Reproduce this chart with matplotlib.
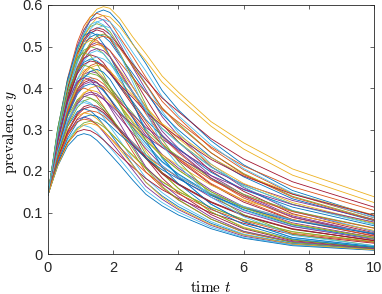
import matplotlib
matplotlib.use('Agg')
import matplotlib.pyplot as plt

# sample times shared by all runs
t = [0, 0.3, 0.6, 0.9, 1.1, 1.3, 1.5, 1.7, 1.9, 2.2, 2.6, 3.0, 3.5, 4.0, 5.0, 6.0, 7.5, 10]

# prevalence of each run
y_runs = [
    [.143, .286, .402, .489, .532, .564, .582, .588, .582, .556, .506, .459, .394, .347, .273, .215, .153, .091],
    [.143, .300, .423, .510, .549, .572, .580, .574, .560, .522, .476, .426, .368, .328, .255, .203, .145, .087],
    [.143, .289, .406, .495, .539, .571, .590, .596, .592, .568, .523, .483, .429, .390, .319, .268, .205, .138],
    [.143, .297, .416, .502, .540, .562, .570, .564, .547, .507, .450, .396, .331, .285, .211, .160, .103, .054],
    [.143, .291, .407, .489, .526, .548, .555, .549, .536, .500, .455, .408, .352, .314, .244, .194, .139, .083],
    [.143, .274, .380, .460, .499, .528, .544, .550, .545, .517, .462, .410, .344, .292, .217, .162, .105, .055],
    [.143, .286, .397, .477, .512, .533, .540, .535, .518, .481, .427, .375, .313, .270, .200, .151, .097, .051],
    [.143, .282, .391, .468, .503, .523, .530, .525, .511, .477, .435, .390, .337, .299, .233, .186, .133, .080],
    [.143, .297, .411, .484, .511, .520, .515, .499, .476, .437, .387, .338, .283, .244, .182, .135, .088, .047],
    [.143, .282, .394, .479, .521, .551, .569, .575, .571, .548, .505, .466, .414, .377, .308, .253, .190, .124],
    [.143, .275, .378, .451, .484, .503, .510, .505, .490, .454, .403, .354, .296, .255, .189, .143, .092, .048],
    [.143, .289, .397, .466, .491, .500, .495, .483, .463, .430, .390, .345, .303, .270, .210, .165, .120, .073],
    [.143, .268, .365, .435, .465, .484, .490, .483, .463, .421, .363, .301, .230, .186, .120, .078, .039, .017],
    [.143, .281, .382, .448, .472, .480, .475, .461, .439, .403, .358, .312, .262, .226, .168, .125, .082, .043],
    [.143, .276, .375, .439, .462, .470, .465, .454, .435, .404, .367, .324, .284, .254, .197, .155, .113, .068],
    [.143, .257, .346, .409, .438, .454, .460, .455, .442, .409, .363, .320, .267, .230, .170, .129, .083, .044],
    [.143, .268, .361, .421, .443, .450, .443, .425, .401, .360, .306, .248, .196, .158, .101, .065, .034, .015],
    [.143, .264, .354, .412, .433, .440, .436, .422, .403, .370, .328, .286, .240, .207, .154, .114, .075, .040],
    [.143, .262, .350, .407, .428, .435, .431, .420, .402, .374, .339, .300, .263, .235, .183, .144, .104, .063],
    [.143, .278, .371, .421, .430, .426, .413, .393, .372, .340, .299, .260, .221, .191, .142, .105, .067, .037],
    [.143, .256, .340, .394, .413, .420, .414, .397, .374, .336, .286, .231, .183, .147, .095, .061, .032, .014],
    [.143, .252, .333, .385, .404, .410, .406, .394, .375, .344, .305, .267, .223, .193, .144, .107, .070, .037],
    [.143, .264, .347, .392, .400, .394, .378, .356, .332, .296, .246, .198, .160, .130, .084, .052, .028, .012],
    [.143, .246, .322, .371, .389, .395, .391, .381, .365, .340, .308, .273, .239, .213, .166, .130, .095, .057],
    [.143, .244, .318, .367, .384, .390, .386, .374, .357, .328, .291, .254, .213, .183, .137, .101, .066, .035],
    [.143, .255, .331, .372, .380, .376, .365, .348, .329, .300, .264, .230, .196, .169, .125, .093, .059, .033],
    [.143, .250, .323, .363, .370, .364, .350, .329, .307, .274, .228, .183, .148, .120, .078, .048, .026, .011],
    [.143, .232, .297, .339, .355, .360, .356, .346, .329, .302, .268, .234, .196, .169, .126, .094, .061, .032],
    [.143, .241, .307, .343, .350, .345, .331, .312, .291, .259, .215, .173, .140, .114, .074, .046, .025, .011],
    [.143, .225, .286, .326, .340, .345, .342, .333, .319, .297, .269, .238, .209, .186, .145, .114, .083, .050],
    [.143, .236, .299, .333, .340, .337, .326, .311, .294, .269, .236, .206, .175, .151, .112, .083, .053, .030],
    [.143, .231, .291, .324, .330, .325, .312, .294, .274, .244, .203, .163, .132, .107, .069, .043, .023, .010],
    [.143, .215, .269, .303, .316, .320, .317, .307, .293, .269, .238, .208, .174, .150, .112, .083, .054, .029],
    [.143, .222, .275, .305, .310, .305, .293, .276, .257, .229, .191, .153, .124, .101, .065, .040, .022, .010],
    [.143, .217, .268, .295, .300, .297, .288, .275, .260, .237, .209, .182, .155, .134, .099, .074, .047, .026],
    [.143, .212, .260, .285, .290, .286, .274, .258, .241, .215, .178, .144, .116, .094, .061, .038, .020, .009],
    [.143, .273, .375, .447, .479, .499, .505, .501, .490, .462, .424, .389, .348, .318, .258, .212, .162, .105],
    [.143, .255, .343, .405, .433, .449, .455, .452, .441, .416, .382, .350, .314, .287, .232, .191, .146, .094],
    [.143, .254, .336, .389, .409, .415, .412, .403, .388, .364, .336, .305, .277, .251, .203, .168, .129, .083],
    [.143, .268, .368, .444, .482, .509, .525, .530, .522, .485, .424, .360, .276, .223, .143, .095, .048, .020],
    [.143, .279, .388, .471, .512, .542, .559, .565, .559, .534, .486, .441, .379, .333, .263, .206, .147, .088],
    [.143, .288, .400, .481, .517, .538, .545, .541, .529, .499, .458, .420, .376, .343, .278, .229, .174, .113],
    [.143, .303, .421, .498, .526, .535, .527, .506, .476, .428, .364, .294, .233, .187, .120, .078, .040, .018],
    [.143, .266, .365, .440, .477, .504, .520, .525, .520, .496, .452, .410, .352, .310, .244, .192, .137, .081],
    [.143, .295, .407, .480, .506, .515, .510, .497, .476, .443, .402, .355, .312, .278, .216, .170, .124, .075],
    [.143, .270, .368, .439, .470, .489, .495, .490, .475, .441, .391, .344, .287, .248, .183, .139, .089, .047],
    [.143, .304, .414, .474, .485, .478, .458, .432, .403, .359, .298, .240, .194, .158, .102, .063, .034, .015],
    [.143, .263, .356, .422, .451, .469, .475, .470, .458, .428, .390, .349, .302, .268, .209, .166, .119, .071],
    [.143, .274, .372, .434, .457, .465, .462, .451, .435, .408, .377, .342, .310, .281, .228, .188, .144, .093],
    [.143, .252, .336, .397, .424, .440, .445, .438, .421, .383, .329, .274, .209, .169, .109, .071, .036, .016],
    [.143, .258, .343, .398, .418, .425, .421, .410, .393, .366, .332, .293, .257, .230, .179, .140, .102, .062],
    [.143, .237, .311, .363, .386, .400, .405, .401, .389, .360, .320, .281, .235, .203, .150, .113, .073, .038],
    [.143, .242, .315, .362, .379, .385, .382, .373, .360, .338, .312, .283, .257, .233, .189, .156, .119, .077],
    [.143, .238, .308, .353, .369, .375, .369, .354, .334, .300, .255, .206, .163, .131, .084, .054, .028, .012],
    [.143, .248, .319, .358, .365, .361, .352, .338, .321, .299, .268, .239, .212, .186, .146, .115, .082, .050],
    [.143, .230, .294, .335, .350, .355, .351, .341, .325, .298, .264, .231, .193, .167, .124, .092, .060, .032],
    [.143, .221, .279, .317, .330, .335, .332, .323, .310, .288, .261, .231, .203, .181, .141, .111, .080, .049],
    [.143, .229, .287, .319, .325, .322, .312, .297, .281, .257, .226, .197, .167, .145, .107, .080, .050, .028],
    [.143, .213, .265, .299, .311, .315, .310, .298, .280, .252, .214, .173, .137, .110, .071, .046, .024, .010],
    [.143, .276, .367, .416, .425, .419, .402, .378, .353, .315, .261, .210, .170, .138, .089, .055, .030, .013],
    [.143, .290, .390, .445, .455, .450, .437, .416, .394, .359, .316, .275, .234, .202, .150, .111, .071, .040],
    [.143, .293, .410, .493, .530, .553, .560, .552, .529, .482, .414, .344, .263, .213, .137, .090, .045, .020],
]

xticks = [0, 2, 4, 6, 8, 10]
xtick_labels = ['0', '2', '4', '6', '8', '10']
yticks = [0, 0.1, 0.2, 0.3, 0.4, 0.5, 0.6]
ytick_labels = ['0', '0.1', '0.2', '0.3', '0.4', '0.5', '0.6']

# matlab default line colours
colors = ['#0072BD', '#D95319', '#EDB120', '#7E2F8E', '#77AC30', '#4DBEEE', '#A2142F']

plt.rcParams['font.family'] = 'Liberation Sans'
plt.rcParams['mathtext.fontset'] = 'cm'

fig = plt.figure(figsize=(3.82, 2.94), dpi=100)
ax = fig.add_axes([48 / 382, 1 - 254 / 294, 326 / 382, 249 / 294])

for i, y in enumerate(y_runs):
    ax.plot(t, y, color=colors[i % len(colors)], lw=0.6)

ax.set_xlim(0, 10)
ax.set_ylim(0, 0.6)
ax.set_xticks(xticks)
ax.set_xticklabels(xtick_labels)
ax.set_yticks(yticks)
ax.set_yticklabels(ytick_labels)
ax.tick_params(direction='in', top=True, right=True, length=3, width=0.5,
               labelsize=10.5, colors='#262626')
ax.tick_params(axis='x', pad=5)
ax.tick_params(axis='y', pad=4)
for s in ax.spines.values():
    s.set_linewidth(0.6)
    s.set_color('#262626')

ax.set_xlabel(r'$\mathrm{time}\ t$', fontsize=11)
ax.set_ylabel(r'$\mathrm{prevalence}\ y$', fontsize=11)
ax.xaxis.set_label_coords(0.5, -0.105)
ax.yaxis.set_label_coords(-0.09, 0.49)

fig.savefig('out.png', dpi=100)
